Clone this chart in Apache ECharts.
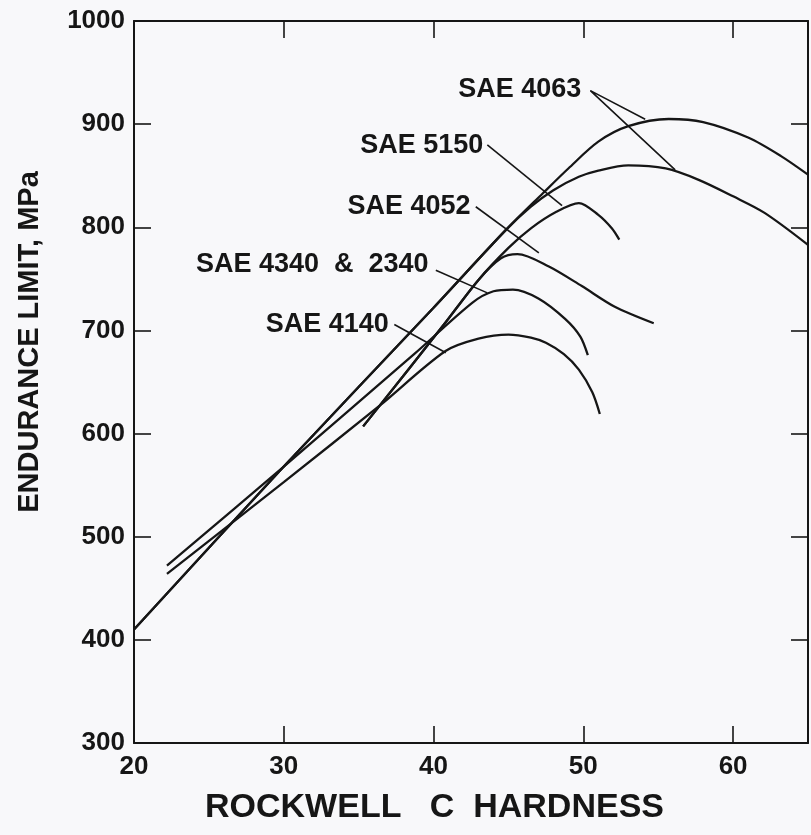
<!DOCTYPE html>
<html><head><meta charset="utf-8">
<script src="https://cdn.jsdelivr.net/npm/echarts@6/dist/echarts.min.js"></script>
<style>html,body{margin:0;padding:0;background:#f8f8fa}#c{width:811px;height:835px}</style>
</head><body><div id="c"></div>
<script>
// ---- data (Rockwell C hardness, endurance limit MPa) ----
const sae4063a = [[20,410],[30,568],[40,722],[44.8,797],[47.3,833],[49,857],[51,883],[53,898],[55.7,905],[58,902],[61,887],[63.2,869],[65,851]];
const sae4063b = [[20,410],[30,568],[40,722],[44.8,797],[46.5,820],[48,836],[49.7,849],[51,855],[53,860],[55.5,857],[57.7,846],[60,830],[62.1,814],[65,783]];
const sae5150  = [[35.3,607],[40.6,704],[43,749],[45,780],[46.5,799],[48.2,815],[49.7,823.5],[51,812],[51.9,799],[52.4,788]];
const sae4052  = [[35.3,607],[40.6,704],[43,749],[44.5,770],[45.6,774],[47.7,762],[49.9,743],[52.1,723],[54.7,707]];
const sae4340  = [[22.2,472],[30,568],[38.7,677],[42.6,727],[44,738],[45.3,739.6],[47,731],[48.8,711],[49.8,694],[50.3,676]];
const sae4140  = [[22.2,464],[30,553],[36.4,627],[40.8,680],[43,692],[45,696],[46.5,693],[47.5,688],[48.7,677],[49.7,662],[50.6,640],[51.1,619]];

const xTicks = [20,30,40,50,60];
const yTicks = [300,400,500,600,700,800,900,1000];

// annotation labels: text, anchor (right-middle of text), leader polyline
const labelNames = ['SAE 4063','SAE 5150','SAE 4052','SAE 4340  &  2340','SAE 4140'];
const labelAnchors = [[49.9,933.2],[43.35,879.3],[42.5,820.2],[39.7,763.8],[37.05,705.7]];
const leaders = [
  [[54.13,904.8],[50.47,932.5],[56.13,855.7]],
  [[43.59,880],[48.58,820.9]],
  [[42.82,819.9],[47.03,775.1]],
  [[40.15,758.3],[43.59,736.4]],
  [[37.38,705.7],[40.82,678.3]]
];

const INK = '#161616';
const FONT = '"Liberation Sans", Arial, Helvetica, sans-serif';
const curves = [sae4063a, sae4063b, sae5150, sae4052, sae4340, sae4140];

const series = [];
curves.forEach(d => series.push({
  type:'line', data:d, showSymbol:false, smooth:0.3,
  lineStyle:{color:INK, width:2.3}, silent:true, animation:false, z:3
}));
leaders.forEach(d => series.push({
  type:'line', data:d, showSymbol:false, smooth:false,
  lineStyle:{color:INK, width:1.6}, silent:true, animation:false, z:3
}));
series.push({
  type:'scatter', symbolSize:1, animation:false, silent:true,
  itemStyle:{opacity:0},
  data: labelAnchors.map((p,i)=>({value:p, name:labelNames[i]})),
  label:{show:true, position:'left', distance:0, formatter:p=>p.name, opacity:1,
    color:INK, fontSize:27, fontWeight:'bold', fontFamily:FONT, textBorderWidth:0}
});

const axisLine = {show:true, lineStyle:{color:INK, width:2}};
const tick = {show:true, inside:true, length:17, lineStyle:{color:INK, width:1.6}};
const chart = echarts.init(document.getElementById('c'), null, {renderer:'canvas'});
chart.setOption({
  backgroundColor:'#f8f8fa',
  animation:false,
  grid:{left:134, right:1, top:21, bottom:92},
  xAxis:[
    {type:'value', position:'bottom', min:20, max:65, interval:10, axisLine, axisTick:tick,
     splitLine:{show:false},
     axisLabel:{margin:11, color:INK, fontSize:26, fontWeight:'bold', fontFamily:FONT,
       formatter:v=> xTicks.includes(v)? String(v):''}},
    {type:'value', position:'top', min:20, max:65, interval:10, axisLine, axisTick:tick,
     splitLine:{show:false}, axisLabel:{show:false}}
  ],
  yAxis:[
    {type:'value', position:'left', min:300, max:1000, interval:100, axisLine, axisTick:tick,
     splitLine:{show:false},
     axisLabel:{margin:9, color:INK, fontSize:26, fontWeight:'bold', fontFamily:FONT,
       formatter:v=> yTicks.includes(v)? String(v):''}},
    {type:'value', position:'right', min:300, max:1000, interval:100, axisLine, axisTick:tick,
     splitLine:{show:false}, axisLabel:{show:false}}
  ],
  series,
  graphic:[
    {type:'text', left:205, top:791, style:{text:'ROCKWELL   C  HARDNESS', fill:INK,
      font:'bold 34px '+FONT}},
    {type:'text', x:30, y:342, rotation:Math.PI/2, style:{text:'ENDURANCE LIMIT, MPa', fill:INK,
      font:'bold 29px '+FONT, align:'center', verticalAlign:'middle'}}
  ]
});
</script></body></html>
